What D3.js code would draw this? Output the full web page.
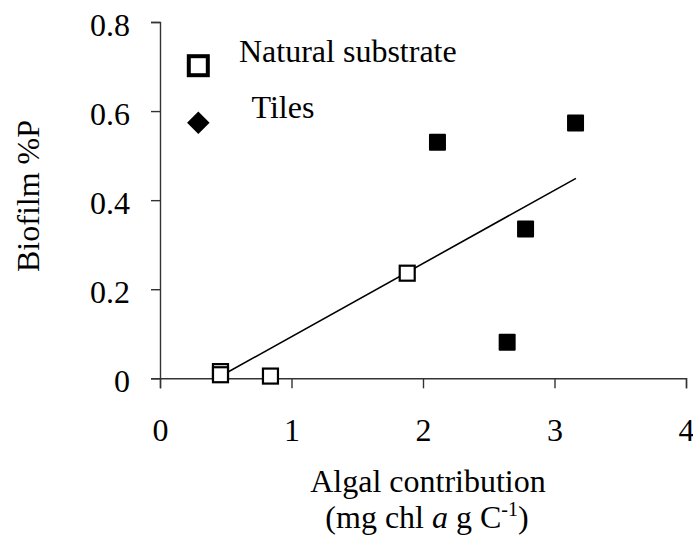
<!DOCTYPE html>
<html>
<head>
<meta charset="utf-8">
<script src="https://cdn.jsdelivr.net/npm/d3@7"></script>
<style>
  html, body { margin: 0; padding: 0; background: #fff; }
</style>
</head>
<body>
<svg id="chart" width="693" height="546"></svg>
<script>
// ---- data ----
const natX = [0.46, 0.46, 0.84, 1.88];
const natY = [0.015, 0.008, 0.005, 0.236];
const tileX = [2.11, 2.64, 2.78, 3.16];
const tileY = [0.530, 0.081, 0.335, 0.573];
const trendX = [0.456, 3.163];
const trendY = [0.004, 0.449];
const xTicks = [0, 1, 2, 3, 4];
const yTicks = [0, 0.2, 0.4, 0.6, 0.8];
const legendLabels = ["Natural substrate", "Tiles"];

// ---- layout ----
const FONT = "'Liberation Serif', 'Times New Roman', Tinos, serif";
const FS = 32;
const svg = d3.select("#chart");
const x = d3.scaleLinear().domain([0, 4]).range([160, 686]);
const y = d3.scaleLinear().domain([0, 0.8]).range([378.3, 22]);
const axisColor = "#333";

// axes
const xAxis = svg.append("g").attr("transform", `translate(0,${y(0)})`)
  .call(d3.axisBottom(x).tickValues(xTicks).tickSize(10).tickPadding(30).tickFormat(d3.format("d")));
const yAxis = svg.append("g").attr("transform", `translate(${x(0)},0)`)
  .call(d3.axisLeft(y).tickValues(yTicks).tickSize(9).tickPadding(21).tickFormat(d => d === 0 ? "0" : d3.format(".1f")(d)));
[xAxis, yAxis].forEach(g => {
  g.attr("font-family", null).attr("font-size", null);
  g.select(".domain").attr("stroke", axisColor).attr("stroke-width", 1.4);
  g.selectAll(".tick line").attr("stroke", axisColor).attr("stroke-width", 1.4);
  g.selectAll(".tick text").style("font-size", FS + "px").style("font-family", FONT).attr("fill", "#000");
});
yAxis.selectAll(".tick text").attr("dy", "0.42em");
xAxis.selectAll(".tick text").attr("dy", "0.71em");

// trend line
svg.append("line")
  .attr("x1", x(trendX[0])).attr("y1", y(trendY[0]))
  .attr("x2", x(trendX[1])).attr("y2", y(trendY[1]))
  .attr("stroke", "#000").attr("stroke-width", 1.6);

// natural substrate (open squares)
const sOpen = 15;
svg.append("g").selectAll("rect").data(natX.map((d, i) => [d, natY[i]])).join("rect")
  .attr("x", d => x(d[0]) - sOpen / 2).attr("y", d => y(d[1]) - sOpen / 2)
  .attr("width", sOpen).attr("height", sOpen)
  .attr("fill", "#fff").attr("stroke", "#000").attr("stroke-width", 2.2);

// tiles (filled squares)
const sFill = 17;
svg.append("g").selectAll("rect").data(tileX.map((d, i) => [d, tileY[i]])).join("rect")
  .attr("x", d => x(d[0]) - sFill / 2).attr("y", d => y(d[1]) - sFill / 2)
  .attr("width", sFill).attr("height", sFill)
  .attr("fill", "#000").attr("rx", 1);

// legend
const leg = svg.append("g");
leg.append("rect").attr("x", 198.3 - 9.5).attr("y", 65.7 - 9.5).attr("width", 19).attr("height", 19)
  .attr("fill", "#fff").attr("stroke", "#000").attr("stroke-width", 4);
leg.append("path")
  .attr("d", d3.symbol().type(d3.symbolDiamond2).size(2 * 12.7 * 12.7)())
  .attr("transform", "translate(198.3,122.7)")
  .attr("fill", "#000");
leg.append("text").attr("x", 239).attr("y", 61.7).style("font-size", FS + "px").style("font-family", FONT).text(legendLabels[0]);
leg.append("text").attr("x", 251.5).attr("y", 118).style("font-size", FS + "px").style("font-family", FONT).text(legendLabels[1]);

// axis titles
svg.append("text").attr("x", 428).attr("y", 492).attr("text-anchor", "middle")
  .style("font-size", FS + "px").style("font-family", FONT)
  .text("Algal contribution");
const t2 = svg.append("text").attr("x", 427).attr("y", 528).attr("text-anchor", "middle")
  .style("font-size", FS + "px").style("font-family", FONT);
t2.append("tspan").text("(mg chl ");
t2.append("tspan").style("font-style", "italic").text("a");
t2.append("tspan").text(" g C");
t2.append("tspan").style("font-size", Math.round(FS * 0.62) + "px").attr("dy", -12).text("-1");
t2.append("tspan").attr("dy", 12).text(")");

svg.append("text").attr("transform", "translate(39,196) rotate(-90)")
  .attr("text-anchor", "middle")
  .style("font-size", FS + "px").style("font-family", FONT).text("Biofilm %P");
</script>
</body>
</html>
